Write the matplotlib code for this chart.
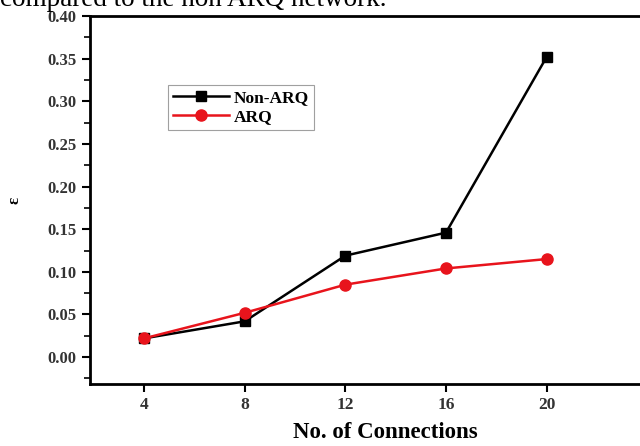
import matplotlib
matplotlib.use("Agg")
import matplotlib.pyplot as plt
from matplotlib.ticker import MultipleLocator

connections = [4, 8, 12, 16, 20]
non_arq = [0.022, 0.042, 0.119, 0.146, 0.352]
arq = [0.022, 0.052, 0.085, 0.104, 0.115]
x_ticks = [4, 8, 12, 16, 20]
y_ticks = [0.00, 0.05, 0.10, 0.15, 0.20, 0.25, 0.30, 0.35, 0.40]

plt.rcParams['font.family'] = ['Liberation Serif', 'DejaVu Serif']

fig = plt.figure(figsize=(6.4, 4.46), dpi=100)
W, H = 640, 446
left, right, bottom, top = 90, 680, 384, 16
ax = fig.add_axes([left / W, (H - bottom) / H, (right - left) / W, (bottom - top) / H])

ax.plot(connections, non_arq, color='black', lw=1.8, marker='s', ms=6.5, label='Non-ARQ')
ax.plot(connections, arq, color='#e8141c', lw=1.8, marker='o', ms=8, label='ARQ')

ax.set_xlim(1.85, 25.3)
ax.set_ylim(-0.0315, 0.40)
ax.set_xticks(x_ticks)
ax.set_yticks(y_ticks)
ax.yaxis.set_minor_locator(MultipleLocator(0.025))
ax.set_yticklabels([f"{v:.2f}" for v in y_ticks], fontweight='bold', fontsize=12, color='#333333')
ax.set_xticklabels([str(v) for v in x_ticks], fontweight='bold', fontsize=12.5, color='#333333')
ax.tick_params(axis='both', which='major', direction='out', length=6, width=1.5)
ax.tick_params(axis='y', which='minor', direction='out', length=4, width=1.2)
for s in ax.spines.values():
    s.set_linewidth(2)

ax.set_xlabel('No. of Connections', fontweight='bold', fontsize=16.5, labelpad=6)
ax.set_ylabel('ε', fontweight='bold', fontsize=12, labelpad=18)

leg = ax.legend(loc='upper left', bbox_to_anchor=((168 - left) / (right - left), 1 - (85 - top) / (bottom - top)),
                prop={'weight': 'bold', 'size': 12.5}, frameon=True, fancybox=False,
                edgecolor='#888888', handlelength=3.2, borderpad=0.3, labelspacing=0.15,
                handletextpad=0.3, borderaxespad=0)
leg.get_frame().set_linewidth(0.8)

fig.text(0.0, 1 - 6 / H, 'compared to the non ARQ network.', fontsize=19.5, ha='left', va='baseline')

fig.savefig('out.png', dpi=100)
